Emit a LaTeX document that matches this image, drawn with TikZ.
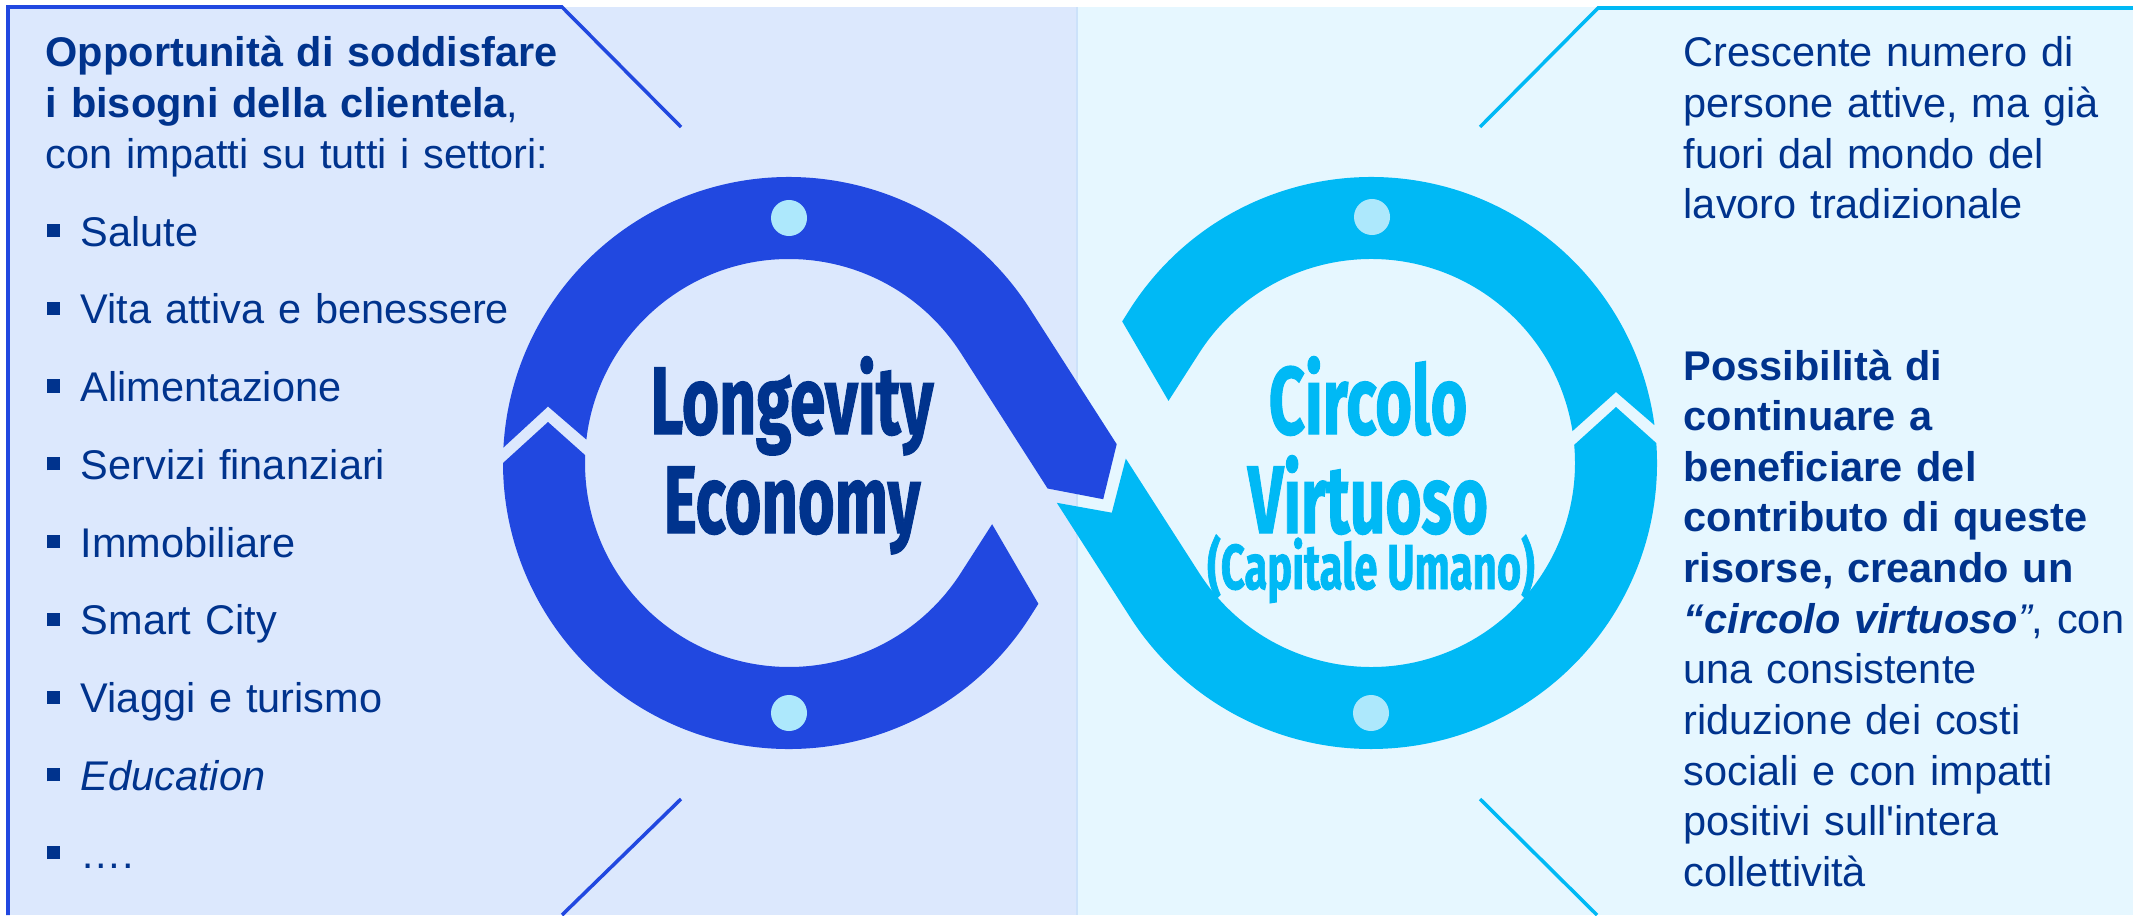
\documentclass[tikz,border=0pt]{standalone}
\usepackage{fontspec}
\setmainfont{Liberation Sans}
\newfontfamily\titlefont{Fira Sans}[BoldFeatures={FakeBold=1.5}]
\usetikzlibrary{calc}

\definecolor{navy}{RGB}{0,51,141}
\definecolor{bandblue}{RGB}{33,72,224}
\definecolor{bandcyan}{RGB}{0,185,245}
\definecolor{dotcyan}{RGB}{173,232,252}
\definecolor{leftbg}{RGB}{220,232,253}
\definecolor{rightbg}{RGB}{230,247,255}
\definecolor{divider}{RGB}{204,226,250}

\newcommand{\sqbullet}{\rule[2.56pt]{3.7pt}{3.7pt}\hspace{6pt}}

\begin{document}
\begin{tikzpicture}[x=0.01cm,y=-0.01cm,
    body/.style={anchor=base west,inner sep=0pt,text=navy,text width=9cm,align=left,
      font=\fontsize{11.8pt}{14.4pt}\selectfont},
    bigtitle/.style={anchor=base,inner sep=0pt,font=\titlefont\bfseries\fontsize{27.2pt}{30pt}\selectfont},
    ringdot/.style={circle,fill=dotcyan,inner sep=0pt,minimum size=0.36cm},
    frameline/.style={line width=0.035cm,line join=miter}]
    \useasboundingbox (0,0) rectangle (2133,915);
    \fill[white] (0,0) rectangle (2133,915);
    \fill[leftbg] (8,7) rectangle (1077,915);
    \fill[rightbg] (1077,7) rectangle (2133,915);
    \draw[line width=0.02cm,divider] (1077,7) -- (1077,915);

    \draw[frameline,bandblue] (8,915) -- (8,7) -- (562,7) -- (681,127);
    \draw[frameline,bandblue] (681,799) -- (562,915);
    \draw[frameline,bandcyan] (2133,8) -- (1598,8) -- (1480,127);
    \draw[frameline,bandcyan] (1480,799) -- (1597,915);

    \coordinate (cl) at (789,463);
    \coordinate (cr) at (1371,463);
    \coordinate (e1) at (1116.7,444.2);
    \coordinate (tipa) at (1103.2,499.2);
    \coordinate (e2) at (1047.6,488.5);
    \coordinate (f1) at (1125.8,458.6);
    \coordinate (notcha) at (1111.8,512.7);
    \coordinate (f2) at (1056.8,502.8);
    \coordinate (cutu) at (992.1,524.2);
    \coordinate (cutl) at (1038.4,603.8);
    \coordinate (cutur) at (1122.2,321.4);
    \coordinate (cutlr) at (1168.5,400.9);

    \fill[bandblue] ($(cl)+(183.1:286)$) -- (548,406.5) -- ($(cl)+(186.6:204)$)
      arc[start angle=186.6,end angle=327.34,radius=204] -- (e2) -- (tipa) -- (e1)
      -- ($(cl)+(327.34:286)$) arc[start angle=327.34,end angle=183.1,radius=286] -- cycle;
    \fill[bandblue] (cutu) -- (cutl) -- ($(cl)+(32.66:286)$)
      arc[start angle=32.66,end angle=180,radius=286] -- (548,422) -- ($(cl)+(182.2:204)$)
      arc[start angle=182.2,end angle=32.66,radius=204] -- cycle;
    \fill[bandcyan] (f2) -- (notcha) -- (f1) -- ($(cr)+(147.34:204)$)
      arc[start angle=147.34,end angle=-5.1,radius=204] -- (1616,407) -- ($(cr)+(-4:286)$)
      arc[start angle=-4,end angle=147.34,radius=286] -- cycle;
    \fill[bandcyan] ($(cr)+(-7.6:286)$) -- (1616,392) -- ($(cr)+(-9:204)$)
      arc[start angle=-9,end angle=-147.34,radius=204] -- (cutlr) -- (cutur)
      -- ($(cr)+(-147.34:286)$) arc[start angle=-147.34,end angle=-7.6,radius=286] -- cycle;

    \node[ringdot] (dotlt) at (789,218) {};
    \node[ringdot] (dotlb) at (789,713) {};
    \node[ringdot] (dotrt) at (1372,217) {};
    \node[ringdot] (dotrb) at (1371,713) {};

    \node[bigtitle,text=navy] (longevity) at (792,434) {\scalebox{0.67}[1]{Longevity}};
    \node[bigtitle,text=navy] (economy) at (792,533) {\scalebox{0.66}[1]{Economy}};
    \node[bigtitle,text=bandcyan] (circolo) at (1368,434) {\scalebox{0.66}[1]{Circolo}};
    \node[bigtitle,text=bandcyan] (virtuoso) at (1368,533) {\scalebox{0.65}[1]{Virtuoso}};
    \node[bigtitle,text=bandcyan,font=\titlefont\bfseries\fontsize{18pt}{20pt}\selectfont]
      (capitale) at (1371,589) {\scalebox{0.66}[1]{(Capitale Umano)}};

    \node[body] (needs) at (45,67) {{\bfseries Opportunità di soddisfare\\
      i bisogni della clientela}, \\
      con impatti su tutti i settori:};
    \node[body,font=\fontsize{11.8pt}{22.11pt}\selectfont] (sectors) at (46,246) {\sqbullet Salute\\
      \sqbullet Vita attiva e benessere\\
      \sqbullet Alimentazione\\
      \sqbullet Servizi finanziari\\
      \sqbullet Immobiliare\\
      \sqbullet Smart City\\
      \sqbullet Viaggi e turismo\\
      \sqbullet \textit{Education}\\
      \sqbullet ….};
    \node[body] (workers) at (1683,67) {Crescente numero di\\
      persone attive, ma già\\
      fuori dal mondo del\\
      lavoro tradizionale};
    \node[body] (benefits) at (1683,380) {{\bfseries Possibilità di\\
      continuare a\\
      beneficiare del\\
      contributo di queste\\
      risorse, creando un\\
      \itshape “circolo virtuoso}{\itshape ”}, con\\
      una consistente\\
      riduzione dei costi\\
      sociali e con impatti\\
      positivi sull\textquotesingle intera\\
      collettività};
\end{tikzpicture}
\end{document}
